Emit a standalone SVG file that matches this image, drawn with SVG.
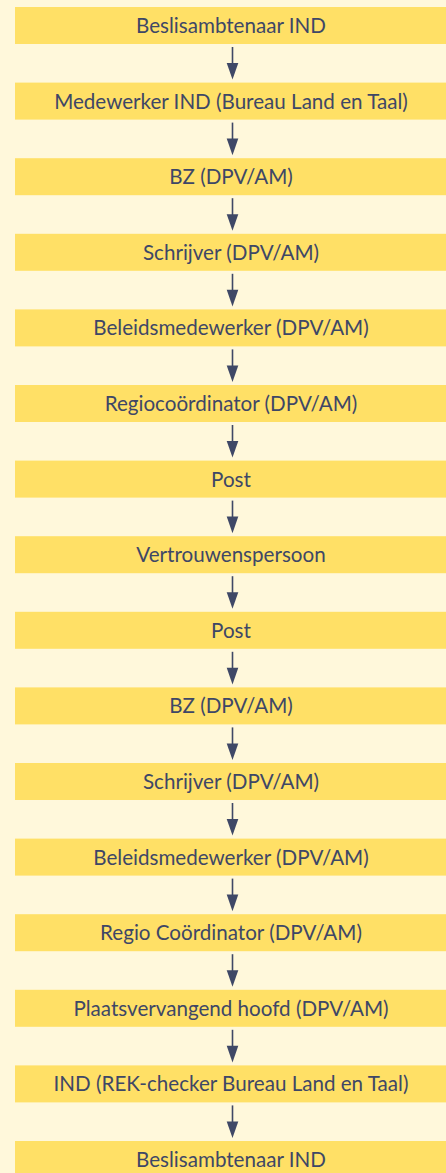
<svg xmlns="http://www.w3.org/2000/svg" xmlns:xlink="http://www.w3.org/1999/xlink" width="446" height="1173" viewBox="0 0 446 1173">
<style>
.box{fill:#FFE066}
.lbl{font-family:Lato,"Open Sans","DejaVu Sans",sans-serif;font-size:20.6px;fill:#3E4766;text-anchor:middle}
.aline{stroke:#3F4866;stroke-width:1.6}
.ahead{fill:#3F4866}
</style>
<defs>
<g id="arrow"><line class="aline" x1="232.5" y1="40" x2="232.5" y2="57"/><polygon class="ahead" points="226.7,56 238.3,56 232.5,72.6"/></g>
</defs>
<rect width="446" height="1173" fill="#FFF8DB"/>
<g id="n0"><rect class="box" x="15" y="7" width="431" height="37"/><text class="lbl" x="231" y="33">Beslisambtenaar IND</text></g>
<g id="n1"><rect class="box" x="15" y="82.6" width="431" height="37"/><text class="lbl" x="231" y="108.6">Medewerker IND (Bureau Land en Taal)</text></g>
<g id="n2"><rect class="box" x="15" y="158.2" width="431" height="37"/><text class="lbl" x="231" y="184.2">BZ (DPV/AM)</text></g>
<g id="n3"><rect class="box" x="15" y="233.8" width="431" height="37"/><text class="lbl" x="231" y="259.8">Schrijver (DPV/AM)</text></g>
<g id="n4"><rect class="box" x="15" y="309.4" width="431" height="37"/><text class="lbl" x="231" y="335.4">Beleidsmedewerker (DPV/AM)</text></g>
<g id="n5"><rect class="box" x="15" y="385" width="431" height="37"/><text class="lbl" x="231" y="411">Regiocoördinator (DPV/AM)</text></g>
<g id="n6"><rect class="box" x="15" y="460.6" width="431" height="37"/><text class="lbl" x="231" y="486.6">Post</text></g>
<g id="n7"><rect class="box" x="15" y="536.2" width="431" height="37"/><text class="lbl" x="231" y="562.2">Vertrouwenspersoon</text></g>
<g id="n8"><rect class="box" x="15" y="611.8" width="431" height="37"/><text class="lbl" x="231" y="637.8">Post</text></g>
<g id="n9"><rect class="box" x="15" y="687.4" width="431" height="37"/><text class="lbl" x="231" y="713.4">BZ (DPV/AM)</text></g>
<g id="n10"><rect class="box" x="15" y="763" width="431" height="37"/><text class="lbl" x="231" y="789">Schrijver (DPV/AM)</text></g>
<g id="n11"><rect class="box" x="15" y="838.6" width="431" height="37"/><text class="lbl" x="231" y="864.6">Beleidsmedewerker (DPV/AM)</text></g>
<g id="n12"><rect class="box" x="15" y="914.2" width="431" height="37"/><text class="lbl" x="231" y="940.2">Regio Coördinator (DPV/AM)</text></g>
<g id="n13"><rect class="box" x="15" y="989.8" width="431" height="37"/><text class="lbl" x="231" y="1015.8">Plaatsvervangend hoofd (DPV/AM)</text></g>
<g id="n14"><rect class="box" x="15" y="1065.4" width="431" height="37"/><text class="lbl" x="231" y="1091.4">IND (REK-checker Bureau Land en Taal)</text></g>
<g id="n15"><rect class="box" x="15" y="1141" width="431" height="37"/><text class="lbl" x="231" y="1167">Beslisambtenaar IND</text></g>
<g id="connectors">
<use xlink:href="#arrow" transform="translate(0,7)"/>
<use xlink:href="#arrow" transform="translate(0,82.6)"/>
<use xlink:href="#arrow" transform="translate(0,158.2)"/>
<use xlink:href="#arrow" transform="translate(0,233.8)"/>
<use xlink:href="#arrow" transform="translate(0,309.4)"/>
<use xlink:href="#arrow" transform="translate(0,385)"/>
<use xlink:href="#arrow" transform="translate(0,460.6)"/>
<use xlink:href="#arrow" transform="translate(0,536.2)"/>
<use xlink:href="#arrow" transform="translate(0,611.8)"/>
<use xlink:href="#arrow" transform="translate(0,687.4)"/>
<use xlink:href="#arrow" transform="translate(0,763)"/>
<use xlink:href="#arrow" transform="translate(0,838.6)"/>
<use xlink:href="#arrow" transform="translate(0,914.2)"/>
<use xlink:href="#arrow" transform="translate(0,989.8)"/>
<use xlink:href="#arrow" transform="translate(0,1065.4)"/>
</g>
</svg>
